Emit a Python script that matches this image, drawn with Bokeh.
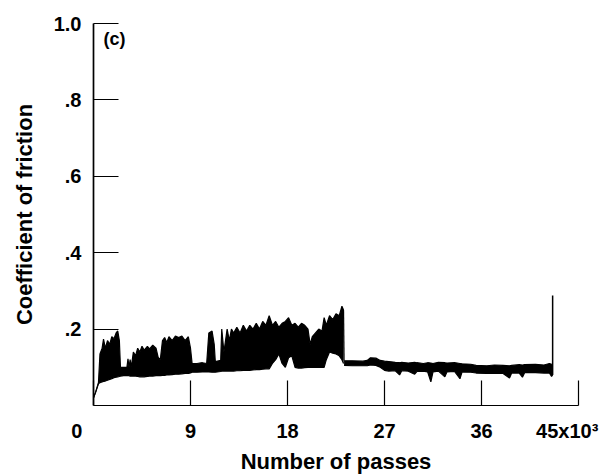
from bokeh.plotting import figure
from bokeh.models import Range1d, FixedTicker, Label
from bokeh.embed import file_html
from bokeh.resources import INLINE

# ---- data (thousands of passes, coefficient of friction) ----
# Upper / lower envelope of the dense friction trace before the step at ~23k passes
x_burst = [0.0, 0.2, 0.46, 0.6, 0.8, 0.93, 1.1, 1.3, 1.5, 1.7, 1.9, 2.1, 2.25, 2.4, 2.5,
           2.8, 3.1, 3.2, 3.3, 3.4, 3.5, 3.7, 3.9, 4.1, 4.3, 4.5, 4.7, 5.0, 5.2, 5.5, 5.8,
           6.0, 6.2, 6.4, 6.6, 6.8, 7.0, 7.3, 7.6, 7.9, 8.2, 8.5, 8.8, 9.0, 9.15, 9.6, 10.1,
           10.5, 10.7, 11.0, 11.2, 11.3, 11.8, 11.9, 12.1, 12.4, 12.6, 12.8, 13.0, 13.3,
           13.6, 13.9, 14.2, 14.5, 14.8, 15.1, 15.4, 15.7, 16.0, 16.3, 16.6, 16.9, 17.2,
           17.5, 17.8, 18.1, 18.4, 18.7, 19.0, 19.3, 19.6, 19.9, 20.1, 20.3, 20.6, 20.9,
           21.2, 21.4, 21.6, 21.9, 22.2, 22.5, 22.8, 23.05, 23.2]
upper_burst = [0.02, 0.035, 0.06, 0.135, 0.15, 0.174, 0.15, 0.17, 0.16, 0.18, 0.175, 0.19,
               0.195, 0.17, 0.10, 0.10, 0.10, 0.122, 0.10, 0.12, 0.10, 0.14, 0.13, 0.15,
               0.14, 0.155, 0.145, 0.155, 0.148, 0.158, 0.15, 0.126, 0.12, 0.17, 0.178,
               0.165, 0.18, 0.17, 0.182, 0.178, 0.182, 0.17, 0.18, 0.15, 0.11, 0.11, 0.112,
               0.11, 0.19, 0.195, 0.16, 0.115, 0.118, 0.20, 0.14, 0.20, 0.17, 0.20, 0.19,
               0.205, 0.19, 0.21, 0.195, 0.21, 0.20, 0.215, 0.20, 0.22, 0.21, 0.235, 0.21,
               0.22, 0.205, 0.215, 0.22, 0.23, 0.21, 0.215, 0.205, 0.215, 0.21, 0.20, 0.16,
               0.18, 0.19, 0.20, 0.195, 0.23, 0.21, 0.235, 0.225, 0.24, 0.235, 0.26, 0.25]
lower_burst = [0.02, 0.035, 0.057, 0.06, 0.062, 0.063, 0.064, 0.066, 0.068, 0.07, 0.073,
               0.074, 0.075, 0.076, 0.077, 0.078, 0.078, 0.078, 0.078, 0.077, 0.077, 0.077,
               0.077, 0.076, 0.075, 0.075, 0.075, 0.076, 0.077, 0.077, 0.078, 0.078, 0.078,
               0.079, 0.079, 0.08, 0.08, 0.081, 0.082, 0.082, 0.083, 0.084, 0.084, 0.085,
               0.087, 0.087, 0.088, 0.088, 0.088, 0.087, 0.087, 0.087, 0.089, 0.09, 0.09,
               0.09, 0.09, 0.09, 0.09, 0.091, 0.091, 0.092, 0.092, 0.092, 0.093, 0.094,
               0.094, 0.095, 0.096, 0.096, 0.11, 0.12, 0.135, 0.11, 0.10, 0.125, 0.13, 0.10,
               0.098, 0.098, 0.099, 0.10, 0.10, 0.10, 0.10, 0.10, 0.10, 0.10, 0.12, 0.14,
               0.137, 0.135, 0.13, 0.12, 0.11]

# Narrow band after the step down
x_flat = [23.25, 24.0, 25.0, 25.4, 25.7, 26.2, 26.6, 27.0, 27.4, 28.0, 28.4, 28.6, 29.2,
          29.8, 30.0, 30.6, 31.0, 31.3, 31.5, 32.0, 32.6, 32.8, 33.5, 34.0, 34.2, 35.0,
          35.5, 36.5, 37.2, 38.0, 38.6, 38.8, 39.5, 39.8, 40.0, 41.0, 41.8, 42.3, 42.5, 42.6]
upper_flat = [0.117, 0.117, 0.116, 0.118, 0.125, 0.124, 0.118, 0.116, 0.115, 0.113, 0.112,
              0.113, 0.111, 0.113, 0.112, 0.110, 0.112, 0.111, 0.110, 0.113, 0.112, 0.111,
              0.112, 0.110, 0.109, 0.108, 0.105, 0.104, 0.106, 0.105, 0.104, 0.105, 0.107,
              0.106, 0.107, 0.108, 0.106, 0.110, 0.108, 0.108]
lower_flat = [0.105, 0.104, 0.104, 0.104, 0.106, 0.105, 0.10, 0.092, 0.09, 0.091, 0.08, 0.091,
              0.09, 0.082, 0.089, 0.09, 0.088, 0.062, 0.088, 0.09, 0.075, 0.088, 0.089, 0.07,
              0.088, 0.087, 0.085, 0.084, 0.085, 0.084, 0.072, 0.085, 0.085, 0.074, 0.086,
              0.086, 0.085, 0.085, 0.076, 0.08]

# Final spike at the end of the run
spike_x = [42.6, 42.6]
spike_y = [0.08, 0.288]

NBSP = "\u00a0"
x_ticks = [0, 9, 18, 27, 36, 45]
x_tick_labels = ["0" + NBSP * 6, "9", "18", "27", "36", "45x10\u00b3" + NBSP * 2]
y_ticks = [0.2, 0.4, 0.6, 0.8, 1.0]
y_tick_labels = [".2", ".4", ".6", ".8", "1.0"]
panel_label = "(c)"

FONT = "Liberation Sans"

p = figure(width=609, height=476, x_range=Range1d(0, 45), y_range=Range1d(0, 1),
           output_backend="svg", toolbar_location=None,
           min_border_left=93, min_border_right=31, min_border_top=23, min_border_bottom=67)
p.outline_line_color = None
p.xgrid.visible = False
p.ygrid.visible = False
p.background_fill_color = "white"
p.border_fill_color = "white"

# trace
p.varea(x=x_burst, y1=lower_burst, y2=upper_burst, fill_color="black")
p.line(x_burst, upper_burst, line_color="black", line_width=1.2)
p.line(x_burst, lower_burst, line_color="black", line_width=1.2)
p.varea(x=x_flat, y1=lower_flat, y2=upper_flat, fill_color="black")
p.line(x_flat, upper_flat, line_color="black", line_width=1.2)
p.line(x_flat, lower_flat, line_color="black", line_width=1.2)
p.line([x_burst[-1], x_flat[0]], [upper_burst[-1], upper_flat[0]], line_color="black", line_width=1.2)
p.line(spike_x, spike_y, line_color="black", line_width=1.5)

# axes
for ax in (p.xaxis[0], p.yaxis[0]):
    ax.major_tick_in = 25
    ax.major_tick_out = 0
    ax.minor_tick_in = 0
    ax.minor_tick_out = 0
    ax.major_tick_line_color = "black"
    ax.major_tick_line_width = 1.2
    ax.axis_line_color = "black"
    ax.major_label_text_font = FONT
    ax.major_label_text_font_style = "bold"
    ax.major_label_text_font_size = "20px"
    ax.major_label_text_color = "black"
    ax.axis_label_text_font = FONT
    ax.axis_label_text_font_style = "bold"
    ax.axis_label_text_font_size = "22px"
    ax.axis_label_text_color = "black"

p.xaxis.ticker = FixedTicker(ticks=x_ticks)
p.xaxis.major_label_overrides = dict(zip(x_ticks, x_tick_labels))
p.xaxis.axis_line_width = 1.2
p.xaxis.major_label_standoff = 14
p.xaxis.axis_label = "Number of passes"
p.xaxis.axis_label_standoff = 4

p.yaxis.ticker = FixedTicker(ticks=y_ticks)
p.yaxis.major_label_overrides = dict(zip(y_ticks, y_tick_labels))
p.yaxis.axis_line_width = 1.7
p.yaxis.major_label_standoff = 12
p.yaxis.major_label_orientation = "horizontal"
p.yaxis.axis_label = "Coefficient of friction"
p.yaxis.axis_label_standoff = 14

p.add_layout(Label(x=0, y=1, x_offset=10, y_offset=-5, text=panel_label,
                   text_align="left", text_baseline="top",
                   text_font=FONT, text_font_style="bold",
                   text_font_size="18px", text_color="black"))

open("out.html", "w").write(file_html(p, INLINE))
